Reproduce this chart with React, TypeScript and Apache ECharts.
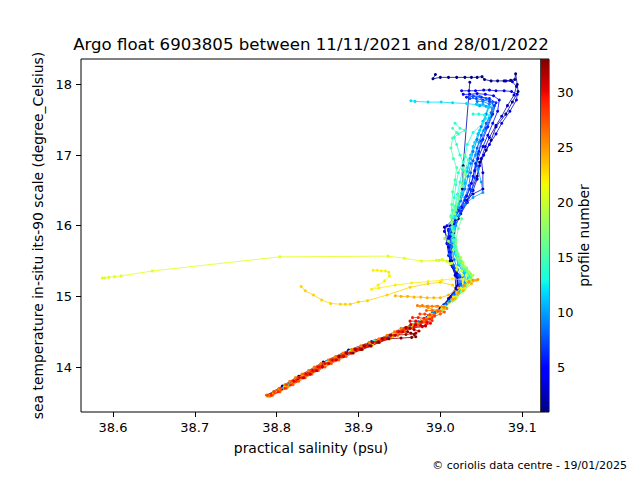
import React, { useEffect, useRef } from "react";
import * as echarts from "echarts";

type Pt = [number, number];

// Each profile: [practical salinity (psu), sea temperature (°C)], surface first
const P01: Pt[] = [[38.994,18.14],[38.991,18.08],[39.0,18.1],[39.01,18.1],[39.02,18.1],[39.03,18.1],[39.038,18.1],[39.045,18.1],[39.051,18.11],[39.054,18.07],[39.062,18.05],[39.07,18.05],[39.078,18.05],[39.086,18.06],[39.091,18.07],[39.092,18.15],[39.094,18.0],[39.095,17.9],[39.088,17.75],[39.08,17.58],[39.068,17.4],[39.062,17.21],[39.056,17.07],[39.048,16.9],[39.045,16.7],[39.038,16.5],[39.03,16.3],[39.022,16.1],[39.016,15.9],[39.014,15.7],[39.014,15.5],[39.02,15.32],[39.021,15.15],[39.013,15.0],[39.003,14.86],[38.989,14.74],[38.97,14.62],[38.944,14.48],[38.916,14.36],[38.888,14.24],[38.857,14.07],[38.827,13.87],[38.807,13.73],[38.788,13.6]];
const P02: Pt[] = [[39.036,18.03],[39.028,16.85],[39.027,16.52],[39.02,16.2],[39.012,16.0],[39.005,15.98],[39.008,15.75],[39.012,15.5],[39.018,15.3],[39.019,15.12],[39.01,14.97],[39.0,14.83],[38.984,14.7],[38.964,14.57],[38.938,14.43],[38.912,14.32],[38.886,14.2],[38.856,14.04],[38.826,13.84],[38.807,13.7],[38.789,13.59]];
const P03: Pt[] = [[39.08,18.05],[39.088,18.04],[39.093,17.97],[39.09,17.85],[39.082,17.7],[39.075,17.55],[39.068,17.42],[39.06,17.25],[39.055,17.12],[39.05,16.95],[39.052,16.75],[39.052,16.52],[39.04,16.45],[39.032,16.36],[39.025,16.2],[39.018,16.08],[39.01,15.95],[39.01,15.7],[39.013,15.45],[39.02,15.28],[39.022,15.12],[39.012,14.98],[39.002,14.84],[38.986,14.72],[38.966,14.59],[38.941,14.45],[38.916,14.34],[38.89,14.22],[38.86,14.06],[38.83,13.86],[38.81,13.72],[38.791,13.6]];
const P04: Pt[] = [[39.026,17.91],[39.035,17.91],[39.043,17.91],[39.053,17.92],[39.06,17.92],[39.068,17.91],[39.078,17.91],[39.087,17.9],[39.094,17.86],[39.093,17.78],[39.085,17.62],[39.075,17.45],[39.068,17.3],[39.06,17.15],[39.053,17.0],[39.048,16.85],[39.045,16.66],[39.04,16.5],[39.033,16.33],[39.025,16.17],[39.017,16.03],[39.012,15.85],[39.011,15.62],[39.015,15.42],[39.021,15.27],[39.02,15.1],[39.011,14.96],[39.001,14.82],[38.985,14.71],[38.965,14.58],[38.94,14.44],[38.914,14.33],[38.888,14.21],[38.858,14.05],[38.828,13.85],[38.809,13.71],[38.79,13.59]];
const P05: Pt[] = [[39.028,17.86],[39.036,17.86],[39.045,17.87],[39.055,17.86],[39.065,17.84],[39.072,17.78],[39.07,17.62],[39.064,17.45],[39.058,17.28],[39.052,17.12],[39.046,16.95],[39.042,16.78],[39.038,16.6],[39.032,16.42],[39.026,16.26],[39.018,16.12],[39.008,16.0],[39.005,15.92],[39.01,15.82],[39.012,15.62],[39.014,15.45],[39.02,15.3],[39.022,15.15],[39.013,15.0],[39.003,14.86],[38.988,14.74],[38.968,14.6],[38.943,14.46],[38.917,14.35],[38.891,14.23],[38.861,14.07],[38.831,13.87],[38.81,13.73],[38.791,13.6]];
const P06: Pt[] = [[39.032,17.82],[39.04,17.83],[39.05,17.82],[39.06,17.8],[39.068,17.74],[39.064,17.58],[39.058,17.4],[39.052,17.22],[39.047,17.05],[39.043,16.88],[39.04,16.7],[39.036,16.52],[39.03,16.36],[39.022,16.22],[39.015,16.08],[39.01,15.93],[39.009,15.75],[39.01,15.58],[39.015,15.42],[39.022,15.3],[39.023,15.16],[39.015,15.02],[39.004,14.88],[38.99,14.76],[38.97,14.63],[38.945,14.49],[38.92,14.37],[38.893,14.25],[38.862,14.08],[38.832,13.88],[38.811,13.73],[38.792,13.61]];
const P07: Pt[] = [[39.036,17.8],[39.044,17.8],[39.052,17.78],[39.06,17.76],[39.066,17.7],[39.062,17.55],[39.056,17.38],[39.05,17.2],[39.046,17.02],[39.044,16.85],[39.042,16.68],[39.038,16.5],[39.032,16.33],[39.025,16.2],[39.018,16.05],[39.013,15.9],[39.012,15.72],[39.013,15.55],[39.018,15.4],[39.024,15.28],[39.024,15.14],[39.015,15.0],[39.005,14.86],[38.991,14.75],[38.971,14.62],[38.946,14.48],[38.92,14.36],[38.894,14.24],[38.864,14.08],[38.833,13.87],[38.812,13.73],[38.792,13.6]];
const P08: Pt[] = [[39.04,17.84],[39.048,17.83],[39.056,17.8],[39.064,17.75],[39.062,17.6],[39.056,17.45],[39.05,17.28],[39.045,17.1],[39.04,16.92],[39.037,16.75],[39.035,16.57],[39.03,16.4],[39.024,16.25],[39.017,16.1],[39.012,15.95],[39.01,15.78],[39.011,15.6],[39.016,15.44],[39.023,15.3],[39.025,15.17],[39.017,15.03],[39.007,14.89],[38.993,14.77],[38.973,14.64],[38.948,14.5],[38.921,14.38],[38.895,14.25],[38.865,14.09],[38.835,13.89],[38.813,13.74],[38.793,13.61]];
const P09: Pt[] = [[39.045,17.76],[39.052,17.76],[39.06,17.72],[39.056,17.58],[39.05,17.4],[39.045,17.22],[39.04,17.05],[39.037,16.88],[39.034,16.7],[39.03,16.52],[39.025,16.35],[39.02,16.2],[39.015,16.05],[39.013,15.88],[39.014,15.7],[39.017,15.52],[39.021,15.38],[39.027,15.28],[39.025,15.15],[39.016,15.01],[39.006,14.87],[38.992,14.76],[38.972,14.63],[38.947,14.49],[38.921,14.37],[38.894,14.25],[38.864,14.08],[38.834,13.88],[38.813,13.73],[38.792,13.6]];
const P10: Pt[] = [[39.048,17.7],[39.056,17.69],[39.064,17.66],[39.06,17.52],[39.053,17.35],[39.047,17.18],[39.043,17.0],[39.046,16.8],[39.05,16.62],[39.052,16.47],[39.04,16.4],[39.03,16.3],[39.023,16.15],[39.019,16.0],[39.017,15.82],[39.018,15.62],[39.022,15.45],[39.029,15.33],[39.03,15.2],[39.022,15.06],[39.011,14.93],[38.999,14.8],[38.983,14.69],[38.963,14.56],[38.938,14.43],[38.913,14.32],[38.888,14.2],[38.858,14.03],[38.829,13.84],[38.809,13.7],[38.792,13.6]];
const P11: Pt[] = [[39.044,17.72],[39.052,17.72],[39.06,17.68],[39.052,17.48],[39.046,17.3],[39.04,17.12],[39.036,16.95],[39.033,16.77],[39.03,16.6],[39.027,16.44],[39.022,16.28],[39.018,16.12],[39.016,15.95],[39.016,15.77],[39.018,15.6],[39.022,15.45],[39.029,15.34],[39.032,15.22],[39.025,15.08],[39.014,14.95],[39.003,14.82],[38.989,14.72],[38.969,14.59],[38.944,14.46],[38.919,14.35],[38.892,14.23],[38.862,14.07],[38.832,13.87],[38.811,13.72],[38.791,13.59]];
const P12: Pt[] = [[38.964,17.77],[38.969,17.76],[38.985,17.75],[39.001,17.75],[39.015,17.74],[39.032,17.73],[39.046,17.71],[39.058,17.69],[39.055,17.52],[39.048,17.35],[39.042,17.18],[39.037,17.0],[39.033,16.82],[39.03,16.64],[39.026,16.46],[39.021,16.3],[39.018,16.14],[39.017,15.97],[39.018,15.8],[39.02,15.62],[39.023,15.47],[39.029,15.36],[39.034,15.26],[39.028,15.12],[39.018,14.99],[39.004,14.85],[38.988,14.74],[38.968,14.61],[38.943,14.47],[38.918,14.36],[38.891,14.24],[38.861,14.07],[38.831,13.87],[38.81,13.73],[38.79,13.6]];
const P13: Pt[] = [[39.04,17.58],[39.047,17.58],[39.054,17.57],[39.06,17.56],[39.052,17.45],[39.04,17.32],[39.033,17.15],[39.03,16.98],[39.027,16.8],[39.024,16.62],[39.021,16.45],[39.018,16.28],[39.016,16.12],[39.015,15.95],[39.016,15.78],[39.019,15.6],[39.023,15.47],[39.03,15.37],[39.036,15.27],[39.03,15.14],[39.02,15.0],[39.006,14.86],[38.99,14.75],[38.97,14.62],[38.945,14.48],[38.92,14.37],[38.893,14.25],[38.863,14.08],[38.833,13.88],[38.812,13.73],[38.791,13.6]];
const P14: Pt[] = [[39.018,17.45],[39.024,17.38],[39.03,17.35],[39.022,17.3],[39.017,17.25],[39.02,17.15],[39.024,17.0],[39.028,16.9],[39.022,16.75],[39.019,16.58],[39.017,16.4],[39.015,16.22],[39.014,16.05],[39.015,15.88],[39.018,15.7],[39.022,15.55],[39.027,15.44],[39.033,15.35],[39.037,15.26],[39.03,15.13],[39.02,14.99],[39.006,14.86],[38.99,14.74],[38.969,14.61],[38.944,14.47],[38.919,14.36],[38.892,14.24],[38.862,14.07],[38.832,13.87],[38.811,13.72],[38.79,13.59]];
const P15: Pt[] = [[39.015,17.38],[39.02,17.32],[39.015,17.24],[39.013,17.1],[39.016,16.95],[39.02,16.82],[39.018,16.65],[39.015,16.48],[39.014,16.3],[39.013,16.14],[39.014,15.98],[39.016,15.8],[39.02,15.64],[39.025,15.5],[39.031,15.4],[39.036,15.31],[39.034,15.2],[39.026,15.07],[39.015,14.94],[39.001,14.81],[38.985,14.7],[38.965,14.57],[38.94,14.44],[38.915,14.33],[38.889,14.22],[38.859,14.05],[38.829,13.85],[38.809,13.71],[38.789,13.59]];
const P16: Pt[] = [[39.03,17.0],[39.034,16.93],[39.03,16.78],[39.026,16.6],[39.022,16.42],[39.018,16.26],[39.013,16.12],[39.02,16.11],[39.026,16.1],[39.022,15.96],[39.019,15.8],[39.02,15.62],[39.023,15.49],[39.029,15.4],[39.035,15.32],[39.036,15.22],[39.028,15.09],[39.017,14.96],[39.003,14.83],[38.987,14.72],[38.967,14.59],[38.942,14.45],[38.917,14.34],[38.89,14.22],[38.86,14.05],[38.83,13.85],[38.81,13.71],[38.79,13.59]];
const P17: Pt[] = [[39.028,16.82],[39.031,16.72],[39.027,16.56],[39.023,16.38],[39.019,16.22],[39.015,16.08],[39.016,15.92],[39.019,15.76],[39.022,15.6],[39.026,15.48],[39.032,15.4],[39.037,15.32],[39.034,15.2],[39.026,15.07],[39.015,14.94],[39.002,14.82],[38.986,14.71],[38.966,14.58],[38.941,14.44],[38.916,14.33],[38.889,14.21],[38.859,14.04],[38.829,13.84],[38.809,13.7],[38.79,13.59]];
const P18: Pt[] = [[39.02,16.3],[39.018,16.17],[39.014,16.04],[39.005,15.82],[39.01,15.78],[39.016,15.66],[39.021,15.53],[39.027,15.44],[39.033,15.36],[39.038,15.3],[39.036,15.2],[39.028,15.08],[39.017,14.95],[39.003,14.82],[38.987,14.71],[38.967,14.58],[38.942,14.44],[38.917,14.33],[38.89,14.21],[38.86,14.04],[38.83,13.84],[38.81,13.7],[38.79,13.58]];
const P19: Pt[] = [[39.025,15.55],[39.028,15.48],[39.03,15.42],[39.035,15.35],[39.04,15.3],[39.038,15.22],[39.03,15.1],[39.019,14.97],[39.005,14.84],[38.989,14.73],[38.968,14.59],[38.943,14.45],[38.918,14.34],[38.891,14.22],[38.861,14.05],[38.831,13.85],[38.811,13.71],[38.791,13.59]];
const P20: Pt[] = [[38.998,15.51],[39.002,15.52],[39.008,15.5],[39.014,15.47],[39.02,15.42],[39.026,15.36],[39.032,15.3],[39.036,15.24],[39.03,15.12],[39.02,14.99],[39.006,14.85],[38.99,14.74],[38.969,14.6],[38.944,14.46],[38.919,14.35],[38.892,14.23],[38.862,14.06],[38.832,13.86],[38.812,13.72],[38.791,13.59]];
const P21: Pt[] = [[38.587,15.26],[38.59,15.26],[38.595,15.27],[38.602,15.28],[38.61,15.29],[38.648,15.36],[38.804,15.56],[38.936,15.57],[38.956,15.54],[38.977,15.5],[38.995,15.51],[39.003,15.52],[39.012,15.46],[39.02,15.38],[39.027,15.3],[39.032,15.22],[39.027,15.1],[39.018,14.98],[39.004,14.84],[38.988,14.73],[38.967,14.59],[38.942,14.45],[38.917,14.34],[38.89,14.22],[38.86,14.05],[38.83,13.85],[38.81,13.71],[38.79,13.59]];
const P22: Pt[] = [[38.918,15.37],[38.923,15.37],[38.928,15.36],[38.933,15.36],[38.937,15.34],[38.938,15.29],[38.932,15.22],[38.924,15.16],[38.916,15.1],[38.925,15.12],[38.945,15.16],[38.965,15.19],[38.985,15.21],[39.002,15.23],[39.015,15.25],[39.028,15.24],[39.025,15.12],[39.016,14.99],[39.003,14.86],[38.988,14.75],[38.968,14.61],[38.943,14.47],[38.918,14.35],[38.891,14.23],[38.861,14.06],[38.831,13.86],[38.811,13.72],[38.79,13.59]];
const P23: Pt[] = [[38.83,15.14],[38.835,15.08],[38.845,15.02],[38.855,14.95],[38.866,14.9],[38.878,14.89],[38.884,14.89],[38.89,14.89],[38.9,14.92],[38.911,14.94],[38.935,15.02],[38.963,15.13],[38.985,15.18],[39.0,15.2],[39.015,15.16],[39.02,15.06],[39.014,14.96],[39.002,14.83],[38.987,14.72],[38.967,14.59],[38.942,14.45],[38.917,14.34],[38.891,14.22],[38.861,14.05],[38.831,13.85],[38.811,13.71],[38.79,13.59]];
const P24: Pt[] = [[38.945,15.01],[38.952,15.0],[38.96,15.0],[38.968,14.99],[38.976,14.99],[38.984,14.98],[38.992,14.98],[39.0,14.98],[39.01,15.02],[39.022,15.12],[39.035,15.2],[39.044,15.23],[39.038,15.18],[39.028,15.08],[39.018,14.97],[39.004,14.84],[38.989,14.73],[38.969,14.6],[38.944,14.46],[38.919,14.35],[38.893,14.23],[38.863,14.06],[38.833,13.86],[38.813,13.72],[38.791,13.59]];
const P25: Pt[] = [[39.046,15.24],[39.04,15.23],[39.035,15.21],[39.029,15.15],[39.022,15.05],[39.015,14.96],[39.005,14.85],[38.995,14.86],[38.985,14.86],[38.975,14.86],[38.985,14.84],[38.996,14.8],[38.99,14.74],[38.972,14.62],[38.948,14.48],[38.922,14.36],[38.895,14.24],[38.865,14.07],[38.835,13.87],[38.814,13.72],[38.792,13.59]];
const P26: Pt[] = [[38.972,14.87],[38.978,14.87],[38.984,14.86],[38.99,14.86],[38.997,14.86],[39.004,14.85],[39.008,14.83],[39.0,14.79],[38.992,14.74],[38.982,14.68],[38.97,14.61],[38.952,14.55],[38.944,14.5],[38.935,14.45],[38.925,14.4],[38.913,14.35],[38.903,14.3],[38.892,14.25],[38.881,14.2],[38.872,14.15],[38.863,14.1],[38.854,14.05],[38.846,14.0],[38.839,13.95],[38.831,13.9],[38.823,13.85],[38.816,13.8],[38.81,13.75],[38.803,13.7],[38.796,13.65],[38.788,13.6]];
const P27: Pt[] = [[38.983,14.8],[38.99,14.8],[38.997,14.79],[39.005,14.78],[39.0,14.75],[38.993,14.72],[38.985,14.68],[38.98,14.64],[38.974,14.6],[38.966,14.55],[38.957,14.5],[38.948,14.45],[38.938,14.4],[38.926,14.35],[38.916,14.3],[38.905,14.25],[38.894,14.2],[38.885,14.15],[38.876,14.1],[38.867,14.05],[38.859,14.0],[38.851,13.95],[38.843,13.9],[38.835,13.85],[38.827,13.8],[38.82,13.75],[38.812,13.7],[38.804,13.65],[38.795,13.6]];
const P28: Pt[] = [[38.975,14.75],[38.981,14.75],[38.987,14.74],[38.993,14.73],[38.99,14.7],[38.983,14.66],[38.964,14.6],[38.956,14.55],[38.947,14.5],[38.938,14.45],[38.928,14.4],[38.916,14.35],[38.906,14.3],[38.895,14.25],[38.884,14.2],[38.875,14.15],[38.866,14.1],[38.857,14.05],[38.849,14.0],[38.842,13.95],[38.834,13.9],[38.826,13.85],[38.819,13.8],[38.812,13.75],[38.805,13.7],[38.797,13.65],[38.789,13.6]];
const P29: Pt[] = [[38.966,14.7],[38.973,14.7],[38.98,14.69],[38.987,14.68],[38.99,14.66],[38.983,14.63],[38.969,14.6],[38.961,14.55],[38.952,14.5],[38.943,14.45],[38.933,14.4],[38.921,14.35],[38.911,14.3],[38.9,14.25],[38.889,14.2],[38.88,14.15],[38.871,14.1],[38.862,14.05],[38.854,14.0],[38.847,13.95],[38.839,13.9],[38.831,13.85],[38.824,13.8],[38.817,13.75],[38.81,13.7],[38.802,13.65],[38.793,13.6]];
const P30: Pt[] = [[38.963,14.65],[38.97,14.65],[38.977,14.64],[38.984,14.63],[38.988,14.62],[38.982,14.59],[38.968,14.57],[38.958,14.55],[38.949,14.5],[38.94,14.45],[38.93,14.4],[38.918,14.35],[38.908,14.3],[38.897,14.25],[38.886,14.2],[38.877,14.15],[38.868,14.1],[38.859,14.05],[38.851,14.0],[38.844,13.95],[38.836,13.9],[38.828,13.85],[38.821,13.8]];
const P31: Pt[] = [[38.964,14.6],[38.97,14.6],[38.976,14.59],[38.982,14.58],[38.978,14.57],[38.963,14.55],[38.954,14.5],[38.945,14.45],[38.935,14.4],[38.923,14.35],[38.913,14.3],[38.902,14.25],[38.891,14.2],[38.882,14.15],[38.873,14.1],[38.864,14.05],[38.856,14.0],[38.849,13.95],[38.841,13.9],[38.833,13.85]];
const P32: Pt[] = [[38.958,14.56],[38.963,14.55],[38.968,14.53],[38.974,14.51],[38.97,14.48],[38.958,14.46],[38.939,14.45],[38.929,14.4],[38.917,14.35],[38.907,14.3],[38.896,14.25],[38.885,14.2],[38.876,14.15]];
const P33: Pt[] = [[38.96,14.5],[38.964,14.48],[38.968,14.46],[38.97,14.43],[38.965,14.42],[38.952,14.41],[38.937,14.4],[38.925,14.35],[38.915,14.3],[38.904,14.25],[38.893,14.2]];

const PROFILES: Pt[][] = [P01,P02,P03,P04,P05,P06,P07,P08,P09,P10,P11,P12,P13,P14,P15,P16,P17,P18,P19,P20,P21,P22,P23,P24,P25,P26,P27,P28,P29,P30,P31,P32,P33];
const PROFILE_MIN = 1;
const PROFILE_MAX = 33;

const X_TICKS = [38.6, 38.7, 38.8, 38.9, 39.0, 39.1];
const Y_TICKS = [14, 15, 16, 17, 18];
const CB_TICKS = [5, 10, 15, 20, 25, 30];

const TITLE = "Argo float 6903805 between 11/11/2021 and 28/01/2022";
const X_NAME = "practical salinity (psu)";
const Y_NAME = "sea temperature in-situ its-90 scale (degree_Celsius)";
const CB_NAME = "profile number";
const CREDIT = "\u00a9 coriolis data centre - 19/01/2025";

// matplotlib "jet" colormap
const JET_R: Pt[] = [[0,0],[0.35,0],[0.66,1],[0.89,1],[1,0.5]];
const JET_G: Pt[] = [[0,0],[0.125,0],[0.375,1],[0.64,1],[0.91,0],[1,0]];
const JET_B: Pt[] = [[0,0.5],[0.11,1],[0.34,1],[0.65,0],[1,0]];
function seg(p: Pt[], t: number) {
  for (let i = 1; i < p.length; i++) {
    if (t <= p[i][0]) {
      const [x0, y0] = p[i - 1];
      const [x1, y1] = p[i];
      return y0 + ((y1 - y0) * (t - x0)) / (x1 - x0);
    }
  }
  return p[p.length - 1][1];
}
function jet(t: number) {
  const c = (v: number) => Math.round(Math.max(0, Math.min(1, v)) * 255);
  return `rgb(${c(seg(JET_R, t))},${c(seg(JET_G, t))},${c(seg(JET_B, t))})`;
}

const FONT = "DejaVu Sans";

export default function App() {
  const ref = useRef<HTMLDivElement>(null);
  useEffect(() => {
    if (!ref.current) return;
    const chart = echarts.init(ref.current, null, { renderer: "svg" });
    const stops = [] as { offset: number; color: string }[];
    for (let i = 0; i <= 64; i++) stops.push({ offset: i / 64, color: jet(i / 64) });
    const gradient = new echarts.graphic.LinearGradient(0, 1, 0, 0, stops);

    const lineSeries = PROFILES.map((prof, i) => {
      const n = i + 1;
      const col = jet((n - PROFILE_MIN) / (PROFILE_MAX - PROFILE_MIN));
      return {
        type: "line",
        name: "profile " + n,
        xAxisIndex: 0,
        yAxisIndex: 0,
        data: prof,
        symbol: "circle",
        symbolSize: 3,
        showSymbol: true,
        showAllSymbol: true,
        lineStyle: { width: 0.8, color: col },
        itemStyle: { color: col, borderWidth: 0 },
        emphasis: { disabled: true },
        silent: true,
        clip: true,
        z: 2,
      };
    });

    chart.setOption({
      animation: false,
      backgroundColor: "#fff",
      textStyle: { fontFamily: FONT },
      grid: [
        { left: 81, top: 59, width: 460, height: 353, show: true, borderColor: "#000", borderWidth: 1, backgroundColor: "transparent" },
        { left: 541, top: 59, width: 8, height: 353, show: true, borderColor: "#000", borderWidth: 1, backgroundColor: "transparent" },
      ],
      xAxis: [
        {
          type: "value", gridIndex: 0, min: 38.561, max: 39.123,
          name: X_NAME, nameLocation: "middle", nameGap: 29,
          nameTextStyle: { fontFamily: FONT, fontSize: 13.9, color: "#000" },
          axisLine: { show: false },
          splitLine: { show: false },
          axisTick: { show: true, customValues: X_TICKS, length: 5, lineStyle: { color: "#000", width: 1 } },
          axisLabel: { customValues: X_TICKS, formatter: (v: number) => v.toFixed(1), fontFamily: FONT, fontSize: 13, color: "#000", margin: 9 },
        },
        { type: "value", gridIndex: 1, min: 0, max: 1, show: false },
      ],
      yAxis: [
        {
          type: "value", gridIndex: 0, min: 13.364, max: 18.36,
          name: Y_NAME, nameLocation: "middle", nameGap: 34, nameRotate: 90,
          nameTextStyle: { fontFamily: FONT, fontSize: 13.9, color: "#000" },
          axisLine: { show: false },
          splitLine: { show: false },
          axisTick: { show: true, customValues: Y_TICKS, length: 5, lineStyle: { color: "#000", width: 1 } },
          axisLabel: { customValues: Y_TICKS, formatter: (v: number) => String(v), fontFamily: FONT, fontSize: 13, color: "#000", margin: 9 },
        },
        {
          type: "value", gridIndex: 1, min: PROFILE_MIN, max: PROFILE_MAX, position: "right",
          name: CB_NAME, nameLocation: "middle", nameGap: 26, nameRotate: 90,
          nameTextStyle: { fontFamily: FONT, fontSize: 13.9, color: "#000" },
          axisLine: { show: false },
          splitLine: { show: false },
          axisTick: { show: true, customValues: CB_TICKS, length: 5, lineStyle: { color: "#000", width: 1 } },
          axisLabel: { customValues: CB_TICKS, formatter: (v: number) => String(v), fontFamily: FONT, fontSize: 13, color: "#000", margin: 8 },
        },
      ],
      graphic: [
        { type: "text", x: 311, y: 44, style: { text: TITLE, fontFamily: FONT, fontSize: 16.6, fill: "#000", textAlign: "center", textVerticalAlign: "middle" } },
        { type: "text", x: 627, y: 465, style: { text: CREDIT, fontFamily: FONT, fontSize: 11, fill: "#000", textAlign: "right", textVerticalAlign: "middle" } },
      ],
      series: [
        {
          type: "custom",
          xAxisIndex: 1,
          yAxisIndex: 1,
          silent: true,
          clip: false,
          data: [[0, PROFILE_MIN]],
          renderItem: (_p: any, api: any) => {
            const a = api.coord([0, PROFILE_MIN]);
            const b = api.coord([1, PROFILE_MAX]);
            return { type: "rect", shape: { x: a[0], y: b[1], width: b[0] - a[0], height: a[1] - b[1] }, style: { fill: gradient } };
          },
        },
        ...lineSeries,
      ],
    } as any);
    return () => chart.dispose();
  }, []);
  return <div ref={ref} style={{ position: "absolute", left: 0, top: 0, width: 640, height: 480 }} />;
}
